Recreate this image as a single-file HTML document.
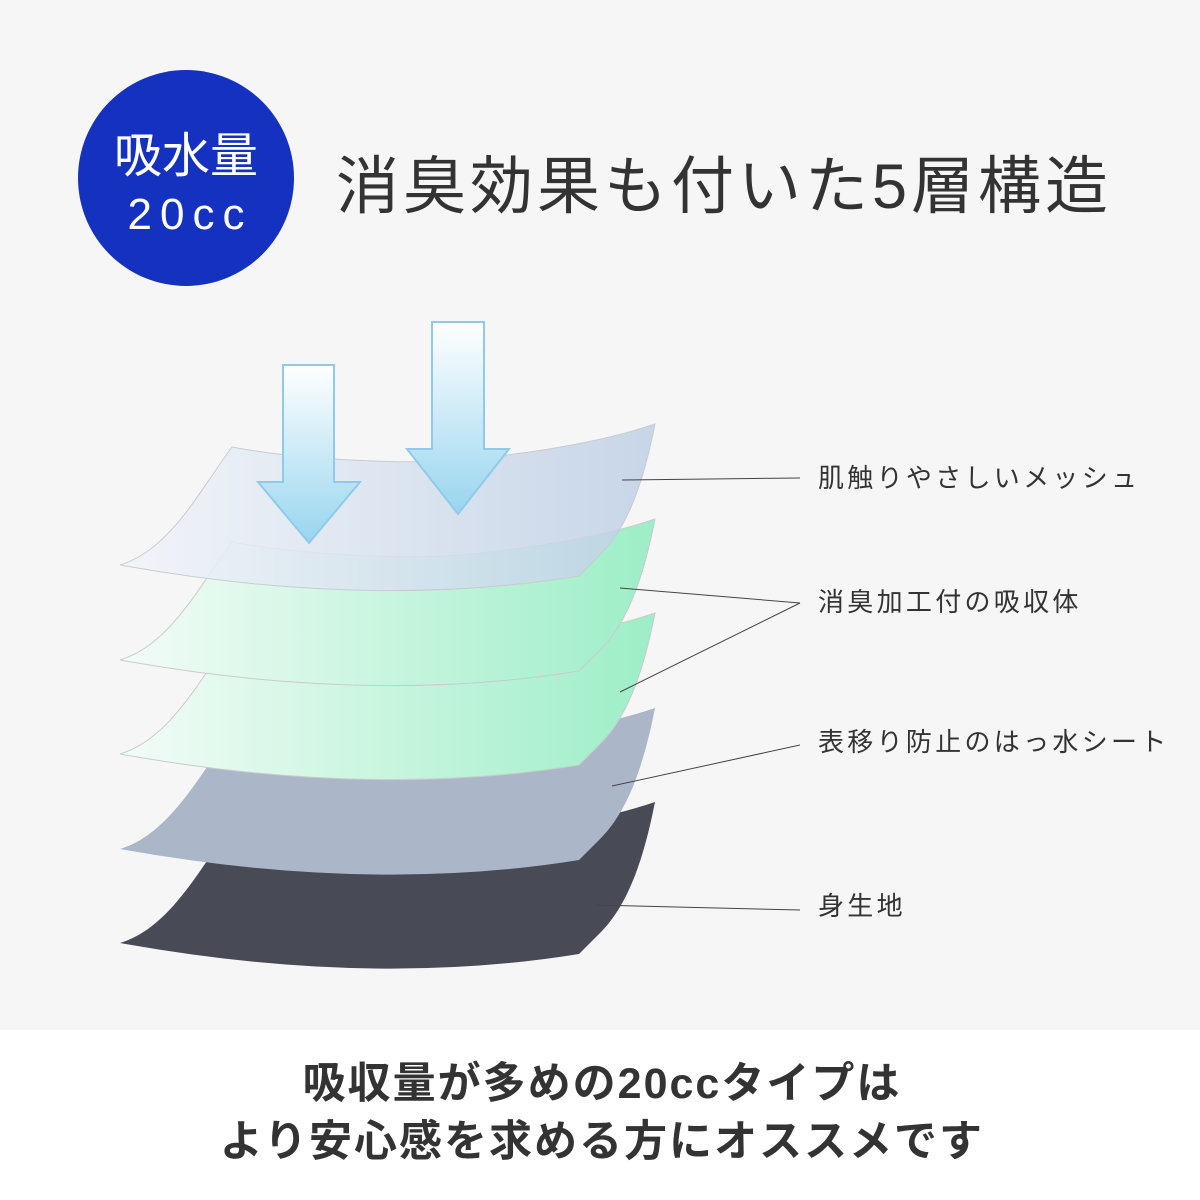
<!DOCTYPE html>
<html><head><meta charset="utf-8"><style>
html,body{margin:0;padding:0;}
body{width:1200px;height:1200px;overflow:hidden;background:#fff;}
svg{display:block;}
text{font-family:"Liberation Sans","Noto Sans CJK JP",sans-serif;}
</style></head><body>
<svg width="1200" height="1200" viewBox="0 0 1200 1200" xmlns="http://www.w3.org/2000/svg">
<defs>
<linearGradient id="gb" x1="0" x2="1" y1="0" y2="0"><stop offset="0" stop-color="#f1f4f9"/><stop offset="1" stop-color="#bfd0e6"/></linearGradient>
<linearGradient id="gg" x1="0" x2="1" y1="0" y2="0"><stop offset="0" stop-color="#f3fcf7"/><stop offset="1" stop-color="#9deec7"/></linearGradient>
<linearGradient id="ga" x1="0" x2="0" y1="0" y2="1"><stop offset="0" stop-color="#ffffff"/><stop offset="1" stop-color="#98d5ef"/></linearGradient>
<path id="L" d="M232,447 C300,460 420,466 480,458 C560,450 620,436 655,424 C642,490 625,530 600,555 L579,576 Q370,610 120,565 C170,550 200,490 232,447 Z"/>
</defs>
<rect x="0" y="0" width="1200" height="1030" fill="#f6f6f6"/>
<circle cx="186" cy="178" r="108" fill="#1531c0"/>
<text x="186" y="172" font-size="48" fill="#fff" text-anchor="middle">吸水量</text>
<text x="190" y="229" font-size="44" fill="#fff" text-anchor="middle" letter-spacing="8">20cc</text>
<text x="724" y="208" font-size="63" fill="#333" text-anchor="middle" letter-spacing="4">消臭効果も付いた5層構造</text>

<use href="#L" transform="translate(0,378)" fill="#484b55"/>
<use href="#L" transform="translate(0,284)" fill="#abb6c8"/>
<use href="#L" transform="translate(0,189)" fill="url(#gg)" stroke="#c8cccc" stroke-width="1"/>
<use href="#L" transform="translate(0,95)" fill="url(#gg)" stroke="#c8cccc" stroke-width="1"/>
<use href="#L" fill="url(#gb)" fill-opacity="0.85" stroke="#c8ccd2" stroke-width="1"/>

<path d="M283,365 H334 V482 H360 L309,543 L258,482 H283 Z" fill="url(#ga)" stroke="#8fcbe8" stroke-width="2"/>
<path d="M432,322 H484 V449 H509 L458,514 L407,449 H432 Z" fill="url(#ga)" stroke="#8fcbe8" stroke-width="2"/>

<g stroke="#444" stroke-width="1" fill="none">
<line x1="622" y1="480" x2="800" y2="478"/>
<line x1="620" y1="588" x2="800" y2="603"/>
<line x1="620" y1="692" x2="800" y2="603"/>
<line x1="612" y1="786" x2="800" y2="745"/>
<line x1="595" y1="905" x2="800" y2="910"/>
</g>
<g font-size="26" fill="#333" letter-spacing="3.3">
<text x="818" y="487">肌触りやさしいメッシュ</text>
<text x="818" y="611">消臭加工付の吸収体</text>
<text x="818" y="751">表移り防止のはっ水シート</text>
<text x="818" y="915">身生地</text>
</g>
<g font-size="43" font-weight="bold" fill="#333" text-anchor="middle" letter-spacing="2">
<text x="602" y="1098">吸収量が多めの20ccタイプは</text>
<text x="602" y="1156">より安心感を求める方にオススメです</text>
</g>
</svg>
</body></html>
